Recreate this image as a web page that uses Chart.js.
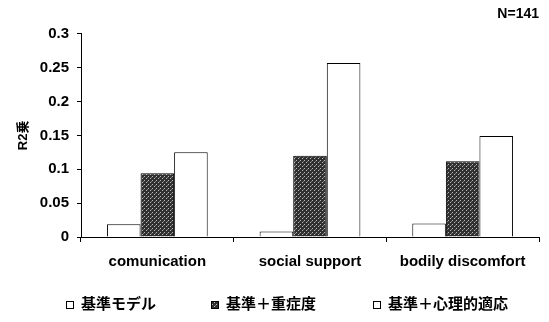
<!DOCTYPE html>
<html>
<head>
<meta charset="utf-8">
<script src="https://cdn.jsdelivr.net/npm/chart.js@4/dist/chart.umd.min.js"></script>
<style>
  html, body { margin: 0; padding: 0; background: #fff; }
  #wrap { width: 549px; height: 322px; position: relative; }
</style>
</head>
<body>
<div id="wrap"><canvas id="c" width="549" height="322"></canvas></div>
<script>
// ---- data ----
const categories = ['comunication', 'social support', 'bodily discomfort'];
const seriesNames = ['基準モデル', '基準＋重症度', '基準＋心理的適応'];
const baseModel = [0.019, 0.008, 0.020];
const baseSeverity = [0.094, 0.120, 0.112];
const basePsych = [0.125, 0.257, 0.149];
const yTicks = [0, 0.05, 0.1, 0.15, 0.2, 0.25, 0.3];
const yTickLabels = ['0', '0.05', '0.1', '0.15', '0.2', '0.25', '0.3'];
const noteText = 'N=141';
const yTitle = 'R2乗';

// ---- styling ----
const FONT = "'Liberation Sans', 'Noto Sans CJK JP', Arial, sans-serif";

function stipple() {
  const c = document.createElement('canvas');
  c.width = 4; c.height = 4;
  const g = c.getContext('2d');
  g.fillStyle = '#303030';
  g.fillRect(0, 0, 4, 4);
  g.fillStyle = '#b8b8b8';
  g.fillRect(0, 0, 1, 1);
  g.fillRect(2, 2, 1, 1);
  g.fillStyle = '#777';
  g.fillRect(3, 1, 1, 1);
  return g.createPattern(c, 'repeat');
}
const darkPattern = stipple();

const legendPlugin = {
  id: 'customLegend',
  afterDraw(chart) {
    const ctx = chart.ctx;
    const xs = [66, 211, 373];
    const y = 305;
    ctx.save();
    ctx.font = 'bold 15px ' + FONT;
    ctx.textBaseline = 'middle';
    ctx.textAlign = 'left';
    chart.data.datasets.forEach((ds, i) => {
      const x = xs[i];
      ctx.fillStyle = ds.backgroundColor;
      ctx.fillRect(x, y - 4, 8, 8);
      ctx.strokeStyle = '#000';
      ctx.lineWidth = 1;
      ctx.strokeRect(x + 0.5, y - 3.5, 7, 7);
      ctx.fillStyle = '#000';
      ctx.fillText(ds.label, x + 15, y);
    });
    ctx.restore();
  }
};

new Chart(document.getElementById('c'), {
  type: 'bar',
  data: {
    labels: categories,
    datasets: [
      { label: seriesNames[0], data: baseModel, backgroundColor: '#ffffff', borderColor: '#000', borderWidth: 1 },
      { label: seriesNames[1], data: baseSeverity, backgroundColor: darkPattern, borderColor: '#000', borderWidth: 1 },
      { label: seriesNames[2], data: basePsych, backgroundColor: '#ffffff', borderColor: '#000', borderWidth: 1 }
    ]
  },
  options: {
    responsive: false,
    animation: false,
    devicePixelRatio: 1,
    layout: { padding: { left: 10, right: 10, top: 0, bottom: 0 } },
    datasets: { bar: { categoryPercentage: 0.66, barPercentage: 1.0 } },
    plugins: {
      legend: { display: false },
      tooltip: { enabled: false },
      title: {
        display: true,
        text: noteText,
        align: 'end',
        color: '#000',
        font: { family: FONT, size: 14, weight: 'bold' },
        padding: { top: 6, bottom: 11 }
      }
    },
    scales: {
      x: {
        grid: { display: true, drawOnChartArea: false, color: '#000', tickLength: 5, tickColor: '#000' },
        border: { display: true, color: '#000', width: 1 },
        ticks: { color: '#000', padding: 11, maxRotation: 0, font: { family: FONT, size: 15, weight: 'bold' } },
        afterFit(scale) { scale.height = 85; }
      },
      y: {
        min: 0,
        max: 0.3,
        afterBuildTicks(scale) { scale.ticks = yTicks.map(v => ({ value: v })); },
        grid: { display: true, drawOnChartArea: false, color: '#000', tickLength: 4, tickColor: '#000' },
        border: { display: true, color: '#000', width: 1 },
        ticks: {
          color: '#000', padding: 8, font: { family: FONT, size: 15, weight: 'bold' },
          callback(value, index) { return yTickLabels[index]; }
        },
        title: {
          display: true,
          text: yTitle,
          color: '#000',
          font: { family: FONT, size: 13, weight: 'bold' },
          padding: { top: 6, bottom: 0 }
        },
        afterFit(scale) { scale.width = 71; }
      }
    }
  },
  plugins: [legendPlugin]
});
</script>
</body>
</html>
